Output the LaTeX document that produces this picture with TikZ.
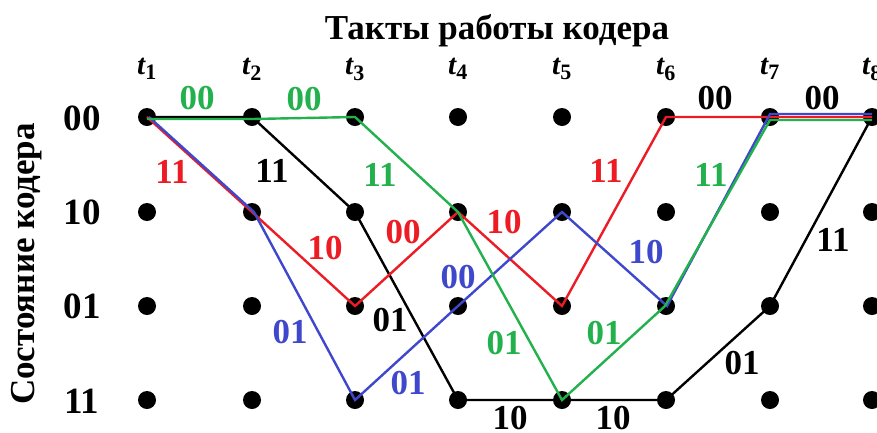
\documentclass[tikz,border=0pt]{standalone}
\usepackage{fontspec}
\setmainfont{Liberation Serif}
\definecolor{pred}{RGB}{237,28,36}
\definecolor{pgreen}{RGB}{34,177,76}
\definecolor{pblue}{RGB}{63,72,204}
\begin{document}
\begin{tikzpicture}[x=1pt,y=-1pt,
  dot/.style={circle,fill=black,inner sep=0pt,minimum size=18pt},
  lbl/.style={font=\fontsize{35}{35}\selectfont\bfseries,inner sep=0pt},
  rlbl/.style={font=\fontsize{37}{37}\selectfont\bfseries,inner sep=0pt},
  tlbl/.style={font=\fontsize{29}{29}\selectfont\bfseries\itshape,inner sep=0pt},
  path/.style={line width=2.4pt,line join=miter}]
\useasboundingbox (0,0) rectangle (877,432);
% grid of dots
\foreach \i/\x in {1/147,2/252,3/355,4/458,5/562,6/666,7/770,8/872}{
  \foreach \r/\y in {a/117,b/212,c/306,d/400}{
    \node[dot] (d\i\r) at (\x,\y) {};
  }
  \node[tlbl,anchor=base] (t\i) at (\x,74) {t\textsubscript{\upshape\fontsize{22}{22}\selectfont\bfseries\i}};
}
% title and axis labels
\node[font=\fontsize{35}{35}\selectfont\bfseries,inner sep=0pt] (title) at (497,31) {Такты работы кодера};
\node[font=\fontsize{35}{35}\selectfont\bfseries,inner sep=0pt,rotate=90] (ylab) at (27,264) {Состояние кодера};
\node[rlbl] (ra) at (82,118) {00};
\node[rlbl] (rb) at (82,212) {10};
\node[rlbl] (rc) at (82,306) {01};
\node[rlbl] (rd) at (82,401) {11};
% paths
\draw[path,black] (d1a.center) -- (d2a.center) -- (d3b.center) -- (d4d.center) -- (d5d.center) -- (d6d.center) -- (d7c.center) -- (d8a.center);
\draw[path,pred] (d1a.center) -- (d2b.center) -- (d3c.center) -- (d4b.center) -- (d5c.center) -- (d6a.center) -- (d7a.center) -- (d8a.center);
\draw[path,pblue] ([xshift=2pt]d1a.center) -- ([xshift=2pt]d2b.center) -- (d3d.center) -- (d4c.center) -- (d5b.center) -- ([xshift=1pt]d6c.center) -- ([yshift=3pt]d7a.center) -- ([yshift=3pt]d8a.center);
\draw[path,pgreen] ([yshift=-2pt]d1a.center) -- ([yshift=-2pt]d2a.center) -- (d3a.center) -- (d4b.center) -- (d5d.center) -- ([xshift=-1pt]d6c.center) -- ([yshift=-3pt]d7a.center) -- ([yshift=-3pt]d8a.center);
% edge labels
\node[lbl,pgreen] (g1) at (197,98) {00};
\node[lbl,pgreen] (g2) at (304,99) {00};
\node[lbl,pred] (r1) at (172,172) {11};
\node[lbl,black] (k1) at (272,171) {11};
\node[lbl,pgreen] (g3) at (380,175) {11};
\node[lbl,pred] (r2) at (325,248) {10};
\node[lbl,pred] (r3) at (403,232) {00};
\node[lbl,pred] (r4) at (504,222) {10};
\node[lbl,pred] (r5) at (606,171) {11};
\node[lbl,pgreen] (g4) at (711,175) {11};
\node[lbl,black] (k2) at (715,98) {00};
\node[lbl,black] (k3) at (822,98) {00};
\node[lbl,pblue] (b1) at (646,252) {10};
\node[lbl,pblue] (b2) at (458,277) {00};
\node[lbl,pblue] (b3) at (290,332) {01};
\node[lbl,black] (k4) at (390,320) {01};
\node[lbl,pblue] (b4) at (408,383) {01};
\node[lbl,pgreen] (g5) at (504,343) {01};
\node[lbl,pgreen] (g6) at (604,333) {01};
\node[lbl,black] (k5) at (742,363) {01};
\node[lbl,black] (k6) at (833,240) {11};
\node[lbl,black] (k7) at (510,418) {10};
\node[lbl,black] (k8) at (613,418) {10};
\end{tikzpicture}
\end{document}
